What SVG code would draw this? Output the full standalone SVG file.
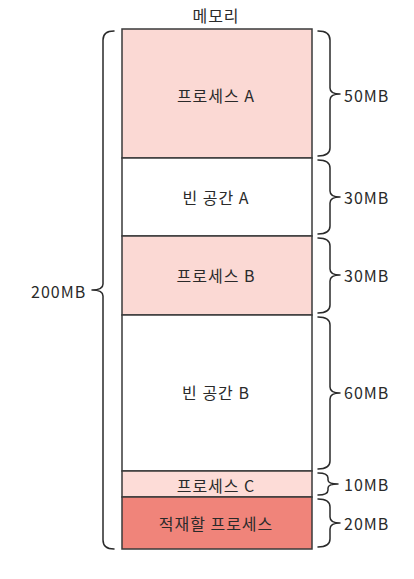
<svg xmlns="http://www.w3.org/2000/svg" width="414" height="579" viewBox="0 0 414 579">
<style>
.seg{stroke:#3a3a3a;stroke-width:1.5}
.brace{fill:none;stroke:#2a2a2a;stroke-width:1.5;stroke-linecap:round;stroke-linejoin:round}
text{font-family:"Noto Sans CJK KR","Noto Sans",sans-serif;font-size:16px;fill:#2a2a2a;dominant-baseline:central;letter-spacing:1px}
.c{text-anchor:middle}
</style>
<rect width="414" height="579" fill="#ffffff"/>
<text class="c" x="216" y="15">메모리</text>
<g id="procA"><rect class="seg" x="122" y="29" width="190" height="129" fill="#fbd9d4"/><text class="c" x="216" y="95">프로세스 A</text></g>
<g id="freeA"><rect class="seg" x="122" y="158" width="190" height="78" fill="#ffffff"/><text class="c" x="216" y="197">빈 공간 A</text></g>
<g id="procB"><rect class="seg" x="122" y="236" width="190" height="79" fill="#fbd9d4"/><text class="c" x="216" y="275">프로세스 B</text></g>
<g id="freeB"><rect class="seg" x="122" y="315" width="190" height="156" fill="#ffffff"/><text class="c" x="216" y="392">빈 공간 B</text></g>
<g id="procC"><rect class="seg" x="122" y="471" width="190" height="26" fill="#fddcd7"/><text class="c" x="216" y="485">프로세스 C</text></g>
<g id="load"><rect class="seg" x="122" y="497" width="190" height="52" fill="#f0847a"/><text class="c" x="216" y="523">적재할 프로세스</text></g>
<g id="connectors">
<path class="brace" d="M114 31 Q103 31 103 40 L103 284 Q103 290 92 290 Q103 290 103 296 L103 540 Q103 549 114 549"/>
<path class="brace" d="M318 31 Q330 31 330 40 L330 88 Q330 94 340 94 Q330 94 330 100 L330 148 Q330 156 318 156"/>
<path class="brace" d="M318 160 Q330 160 330 168 L330 191 Q330 197 340 197 Q330 197 330 203 L330 226 Q330 234 318 234"/>
<path class="brace" d="M318 238 Q330 238 330 246 L330 269 Q330 275 340 275 Q330 275 330 281 L330 305 Q330 313 318 313"/>
<path class="brace" d="M318 317 Q330 317 330 325 L330 387 Q330 393 340 393 Q330 393 330 399 L330 461 Q330 469 318 469"/>
<path class="brace" d="M318 473 Q328 473 328 478 L328 480 Q328 484 338 484 Q328 484 328 488 L328 490 Q328 495 318 495"/>
<path class="brace" d="M318 499 Q330 499 330 507 L330 517 Q330 523 340 523 Q330 523 330 529 L330 539 Q330 547 318 547"/>
</g>
<g id="labels">
<text x="31" y="291">200MB</text>
<text x="344" y="95">50MB</text>
<text x="344" y="197">30MB</text>
<text x="344" y="275">30MB</text>
<text x="344" y="392">60MB</text>
<text x="344" y="484">10MB</text>
<text x="344" y="523">20MB</text>
</g>
</svg>
